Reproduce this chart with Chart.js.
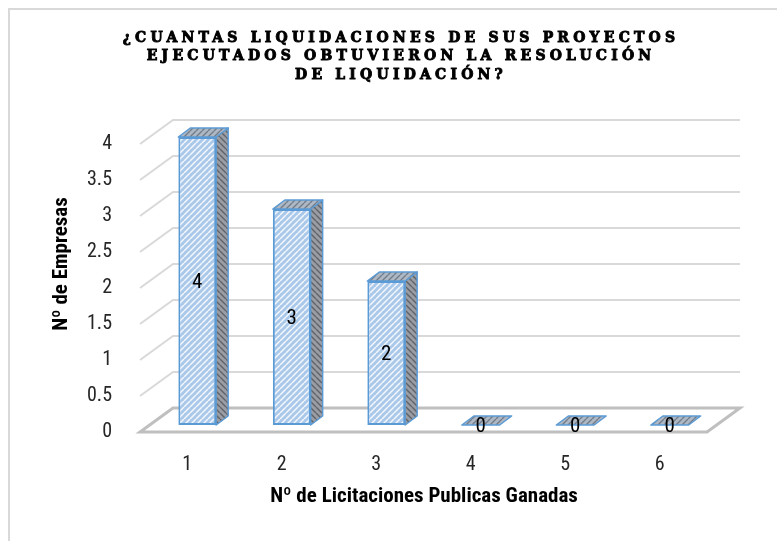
<!DOCTYPE html>
<html>
<head>
<meta charset="utf-8">
<script src="https://cdn.jsdelivr.net/npm/chart.js@4.4.1/dist/chart.umd.min.js"></script>
<style>
  html, body { margin: 0; padding: 0; background: #fff; }
</style>
</head>
<body>
<canvas id="liqChart" width="777" height="541"></canvas>
<script>
// data
const categories = ['1', '2', '3', '4', '5', '6'];
const empresas = [4, 3, 2, 0, 0, 0];
const yTicks = [0, 0.5, 1, 1.5, 2, 2.5, 3, 3.5, 4];
const titleLines = [
    '¿CUANTAS LIQUIDACIONES DE SUS PROYECTOS',
    'EJECUTADOS OBTUVIERON LA RESOLUCIÓN',
    'DE LIQUIDACIÓN?'
];
const yTitle = 'Nº de Empresas';
const xTitle = 'Nº de Licitaciones Publicas Ganadas';

const NARROW = "'Liberation Sans Narrow', 'Arial Narrow', 'Roboto Condensed', 'Liberation Sans', sans-serif";
const BLUE = '#5b9bd5';
const WALL = { dx: 33, dy: -24 };      // depth of the back wall
const BAR_OFF = { dx: 10, dy: -7 };    // bars stand a bit behind the front edge
const BAR_DEPTH = { dx: 12, dy: -9 };

const canvas = document.getElementById('liqChart');
const ctx = canvas.getContext('2d');

// small hatch tiles, like the excel fill
function hatch(bg, line, width, slash) {
    const t = document.createElement('canvas');
    t.width = t.height = 6;
    const g = t.getContext('2d');
    g.fillStyle = bg;
    g.fillRect(0, 0, 6, 6);
    g.strokeStyle = line;
    g.lineWidth = width;
    g.beginPath();
    for (let k = -6; k <= 6; k += 6) {
        if (slash) { g.moveTo(k, 6); g.lineTo(k + 6, 0); }
        else { g.moveTo(k, 0); g.lineTo(k + 6, 6); }
    }
    g.stroke();
    return ctx.createPattern(t, 'repeat');
}
const frontFill = hatch('#a9c8ea', '#f4f8fd', 1.5, true);
const sideFill = hatch('#9a9ea4', '#5f636a', 1.4, false);
const topFill = hatch('#aeb8c4', '#737d8a', 1.4, true);

const box3d = {
    id: 'box3d',
    beforeDraw(chart) {
        const c = chart.ctx;
        c.save();
        c.fillStyle = '#fff';
        c.fillRect(0, 0, chart.width, chart.height);
        c.strokeStyle = '#d9d9d9';
        c.lineWidth = 2;
        c.beginPath();
        c.moveTo(9, chart.height);
        c.lineTo(9, 9);
        c.lineTo(chart.width, 9);
        c.stroke();
        c.restore();
    },
    beforeDatasetsDraw(chart) {
        const c = chart.ctx;
        const a = chart.chartArea;
        const y = chart.scales.y;
        c.save();
        c.strokeStyle = '#d9d9d9';
        c.lineWidth = 2;
        yTicks.forEach(v => {
            if (v === 0) return;
            const yf = y.getPixelForValue(v);
            c.beginPath();
            c.moveTo(a.left, yf);
            c.lineTo(a.left + WALL.dx, yf + WALL.dy);
            c.lineTo(a.right + WALL.dx, yf + WALL.dy);
            c.stroke();
        });
        // floor
        const y0 = y.getPixelForValue(0);
        c.strokeStyle = '#bfbfbf';
        c.lineWidth = 3;
        c.beginPath();
        c.moveTo(a.left, y0);
        c.lineTo(a.right, y0);
        c.lineTo(a.right + WALL.dx, y0 + WALL.dy);
        c.lineTo(a.left + WALL.dx, y0 + WALL.dy);
        c.closePath();
        c.stroke();
        c.restore();
        c.save();
        c.translate(BAR_OFF.dx, BAR_OFF.dy);
    },
    afterDatasetsDraw(chart) {
        const c = chart.ctx;
        const meta = chart.getDatasetMeta(0);
        c.lineWidth = 1.5;
        c.strokeStyle = BLUE;
        c.lineJoin = 'round';
        meta.data.forEach((bar, i) => {
            const { x, y, base, width } = bar.getProps(['x', 'y', 'base', 'width'], true);
            const l = x - width / 2, r = x + width / 2;
            const d = BAR_DEPTH;
            if (base > y) {
                c.beginPath();
                c.moveTo(r, y);
                c.lineTo(r + d.dx, y + d.dy);
                c.lineTo(r + d.dx, base + d.dy);
                c.lineTo(r, base);
                c.closePath();
                c.fillStyle = sideFill;
                c.fill();
                c.stroke();
            }
            c.beginPath();
            c.moveTo(l, y);
            c.lineTo(r, y);
            c.lineTo(r + d.dx, y + d.dy);
            c.lineTo(l + d.dx, y + d.dy);
            c.closePath();
            c.fillStyle = topFill;
            c.fill();
            c.stroke();
            // value label
            c.fillStyle = '#000';
            c.font = '21px ' + NARROW;
            c.textAlign = 'center';
            c.textBaseline = 'middle';
            c.fillText(String(empresas[i]), x, (y + base) / 2 + 2);
        });
        c.restore();
    },
    afterDraw(chart) {
        const c = chart.ctx;
        c.save();
        c.fillStyle = '#000';
        c.strokeStyle = '#000';
        c.lineWidth = 0.9;
        c.textAlign = 'center';
        c.textBaseline = 'middle';
        c.font = "bold 14px 'DejaVu Serif'";
        c.letterSpacing = '4.2px';
        titleLines.forEach((t, i) => {
            c.fillText(t, 401, 38 + i * 18.5);
            c.strokeText(t, 401, 38 + i * 18.5);
        });
        c.letterSpacing = '0px';
        c.font = 'bold 21px ' + NARROW;
        c.fillText(xTitle, 424, 497);
        c.translate(62, 264);
        c.rotate(-Math.PI / 2);
        c.fillText(yTitle, 0, 0);
        c.restore();
    }
};

new Chart(ctx, {
    type: 'bar',
    data: {
        labels: categories,
        datasets: [{
            data: empresas,
            backgroundColor: frontFill,
            borderColor: BLUE,
            borderWidth: 2,
            borderSkipped: false,
            categoryPercentage: 1,
            barPercentage: 0.4,
            clip: false
        }]
    },
    options: {
        responsive: false,
        animation: false,
        layout: { padding: { left: 40, right: 70, top: 144, bottom: 0 } },
        plugins: {
            legend: { display: false },
            tooltip: { enabled: false }
        },
        scales: {
            x: {
                grid: { display: false },
                border: { display: false },
                ticks: { color: '#262626', font: { family: NARROW, size: 20 }, padding: 13 },
                afterFit(scale) { scale.height = 109; }
            },
            y: {
                min: 0,
                max: 4,
                grid: { display: false },
                border: { display: false },
                ticks: {
                    stepSize: 0.5,
                    color: '#262626',
                    font: { family: NARROW, size: 20 },
                    padding: 20,
                    callback: v => String(v)
                },
                afterFit(scale) { scale.width = 100; }
            }
        }
    },
    plugins: [box3d]
});
</script>
</body>
</html>
